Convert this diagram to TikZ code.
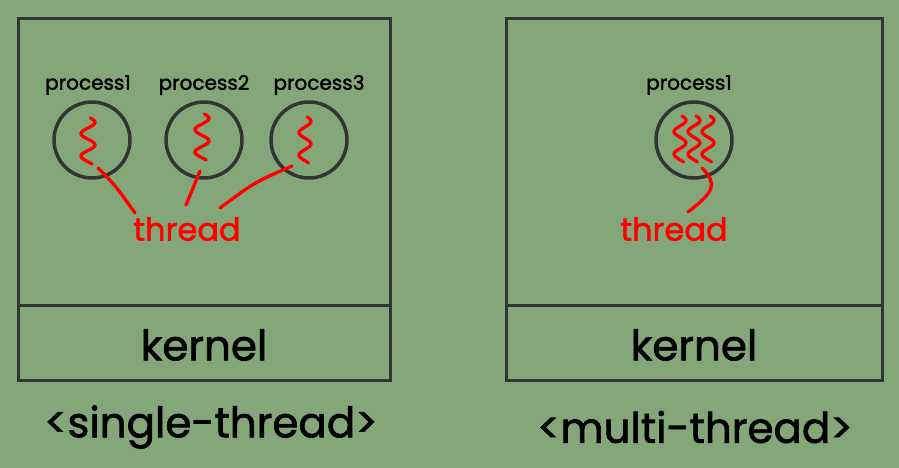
\documentclass[tikz,border=0pt]{standalone}
\usepackage{fontspec}
\setmainfont{Poppins}[FakeBold=1.6]
\usetikzlibrary{positioning}
\definecolor{bggreen}{RGB}{131,167,121}
\definecolor{edgegray}{RGB}{50,52,54}
\definecolor{threadred}{RGB}{255,0,0}
% one wavy thread, top end at (#1,#2), amplitude #3
\newcommand{\squig}[3]{%
  \draw[wire] plot[domain=0:46, samples=40, smooth, variable=\t]
    ({#1+#3*sin(\t*16+20)}, {#2+\t});}

\begin{document}
\begin{tikzpicture}[x=1pt, y=-1pt,
  frame/.style={draw=edgegray, line width=3pt},
  proc/.style={circle, draw=edgegray, line width=3.5pt, minimum size=76pt, inner sep=0pt},
  plabel/.style={font=\fontsize{20}{24}\selectfont, inner sep=0pt},
  tlabel/.style={text=threadred, font=\fontsize{32}{36}\selectfont, inner sep=0pt},
  big/.style={font=\fontsize{42}{48}\selectfont, inner sep=0pt},
  wire/.style={draw=threadred, line width=3.3pt, line cap=round}]
\fill[bggreen] (0,0) rectangle (899,468);
\useasboundingbox (0,0) rectangle (899,468);

% single-thread side
\draw[frame] (18,19) rectangle (390,380);
\draw[frame] (18,305) -- (390,305);
\node[proc] (p1) at (92,140) {};
\node[proc] (p2) at (204,140) {};
\node[proc] (p3) at (309,140) {};
\node[plabel] (l1) at (88,85) {process1};
\node[plabel] (l2) at (204,85) {process2};
\node[plabel] (l3) at (319,85) {process3};
\squig{88}{118}{7}
\squig{202}{114}{7}
\squig{305}{117}{6}
\node[tlabel] (thr1) at (187,229) {thread};
\coordinate (s1) at (98,168);
\coordinate (s2) at (200,171);
\coordinate (s3) at (292,166);
\coordinate (e1) at (135,213);
\coordinate (e2) at (186,205);
\coordinate (e3) at (220,208);
\draw[wire] (s1) .. controls (115,185) .. (e1);
\draw[wire] (s2) -- (e2);
\draw[wire] (s3) .. controls (255,182) .. (e3);
\node[big] (k1) at (204,345) {kernel};
\node[big] (c1) at (211,427) {<single-thread>};

% multi-thread side
\draw[frame] (506,19) rectangle (882,380);
\draw[frame] (506,305) -- (882,305);
\node[proc] (q1) at (694,140) {};
\node[plabel] (m1) at (689,85) {process1};
\squig{680}{116}{6}
\squig{694}{116}{6}
\squig{708}{116}{6}
\node[tlabel] (thr2) at (674,229) {thread};
\coordinate (s4) at (702,168);
\coordinate (e4) at (688,212);
\draw[wire] (s4) .. controls (718,184) and (714,192) .. (e4);
\node[big] (k2) at (694,345) {kernel};
\node[big] (c2) at (695,427) {<multi-thread>};
\end{tikzpicture}
\end{document}
